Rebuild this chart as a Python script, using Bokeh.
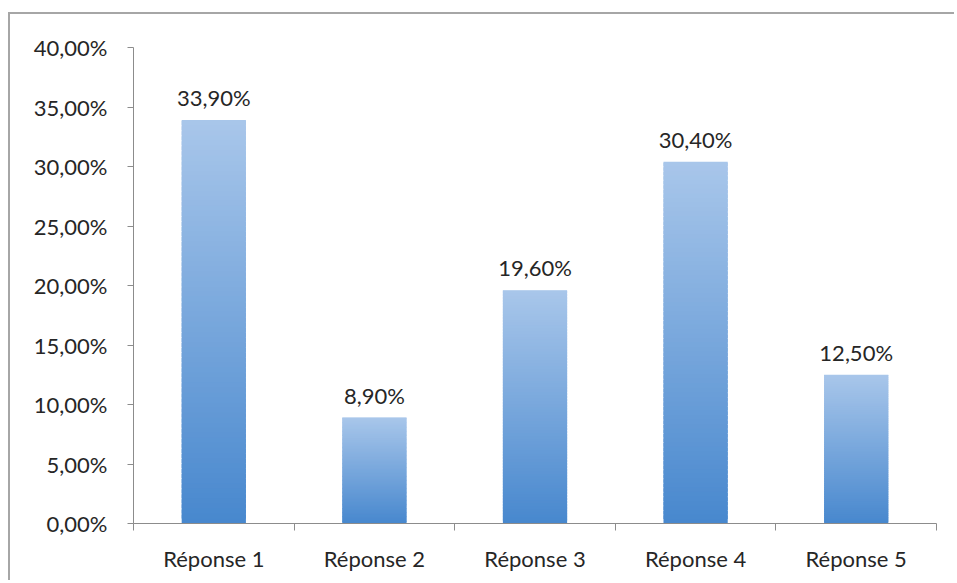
from bokeh.plotting import figure
from bokeh.models import FixedTicker, ColumnDataSource, LabelSet
from bokeh.core.properties import value
from bokeh.embed import file_html
from bokeh.resources import INLINE

# Survey results
categories = ["Réponse 1", "Réponse 2", "Réponse 3", "Réponse 4", "Réponse 5"]
values = [33.9, 8.9, 19.6, 30.4, 12.5]
value_labels = ["33,90%", "8,90%", "19,60%", "30,40%", "12,50%"]
y_ticks = [0, 5, 10, 15, 20, 25, 30, 35, 40]
y_tick_labels = ["0,00%", "5,00%", "10,00%", "15,00%", "20,00%",
                 "25,00%", "30,00%", "35,00%", "40,00%"]

FONT = "Lato"
FONT_SIZE = "22px"
TEXT_COLOR = "#262626"
AXIS_COLOR = "#8c8c8c"
TOP_RGB = (168, 198, 234)
BOTTOM_RGB = (72, 136, 206)
BAR_WIDTH = 0.4
SLICES = 80

p = figure(width=944, height=566, output_backend="svg", toolbar_location=None,
           x_range=(0, len(categories)), y_range=(0, 40),
           min_border_left=123, min_border_right=20,
           min_border_top=33, min_border_bottom=59)
p.outline_line_color = None
p.grid.grid_line_color = None
p.background_fill_color = "white"
p.border_fill_color = "white"
# Chart frame: top and left edges only, with a fixed outer size
p.styles = {"border-top": "2px solid #a6a6a6", "border-left": "2px solid #a6a6a6",
            "margin-top": "12px", "margin-left": "8px",
            "box-sizing": "border-box", "width": "946px", "max-width": "946px",
            "height": "568px", "overflow": "hidden"}

# Bars, each filled with a vertical gradient (light at top, dark at base);
# slices overlap slightly so no seams show between them
left, right, bottom, top, color = [], [], [], [], []
for i, v in enumerate(values):
    cx = i + 0.5
    for k in range(SLICES):
        t = k / (SLICES - 1)
        rgb = tuple(int(round(BOTTOM_RGB[c] + (TOP_RGB[c] - BOTTOM_RGB[c]) * t)) for c in range(3))
        left.append(cx - BAR_WIDTH / 2)
        right.append(cx + BAR_WIDTH / 2)
        bottom.append(v * k / SLICES)
        top.append(min(v, v * (k + 1.8) / SLICES))
        color.append("#%02x%02x%02x" % rgb)
bars = ColumnDataSource(dict(left=left, right=right, bottom=bottom, top=top, color=color))
p.quad(left="left", right="right", bottom="bottom", top="top", source=bars,
       fill_color="color", line_color=None)

# Value labels above the bars
lab = ColumnDataSource(dict(x=[i + 0.5 for i in range(len(values))], y=values, text=value_labels))
p.add_layout(LabelSet(x="x", y="y", text="text", source=lab, text_align="center",
                      text_baseline="bottom", y_offset=9, text_font=value(FONT),
                      text_font_size=value(FONT_SIZE), text_color=TEXT_COLOR))

# Y axis
yax = p.yaxis[0]
yax.ticker = FixedTicker(ticks=y_ticks, minor_ticks=[])
yax.major_label_overrides = {t: s for t, s in zip(y_ticks, y_tick_labels)}
yax.axis_line_color = AXIS_COLOR
yax.major_tick_line_color = AXIS_COLOR
yax.major_tick_out = 6
yax.major_tick_in = 0
yax.major_label_text_font = FONT
yax.major_label_text_font_size = FONT_SIZE
yax.major_label_text_color = TEXT_COLOR
yax.major_label_standoff = 20

# X axis: labels at the bar centres, tick marks between categories
xax = p.xaxis[0]
centres = [i + 0.5 for i in range(len(categories))]
xax.ticker = FixedTicker(ticks=centres, minor_ticks=list(range(len(categories) + 1)))
xax.major_label_overrides = {c: s for c, s in zip(centres, categories)}
xax.axis_line_color = AXIS_COLOR
xax.major_tick_line_color = None
xax.minor_tick_line_color = AXIS_COLOR
xax.minor_tick_out = 7
xax.minor_tick_in = 0
xax.major_label_text_font = FONT
xax.major_label_text_font_size = FONT_SIZE
xax.major_label_text_color = TEXT_COLOR
xax.major_label_standoff = 14

open("out.html", "w").write(file_html(p, INLINE))
